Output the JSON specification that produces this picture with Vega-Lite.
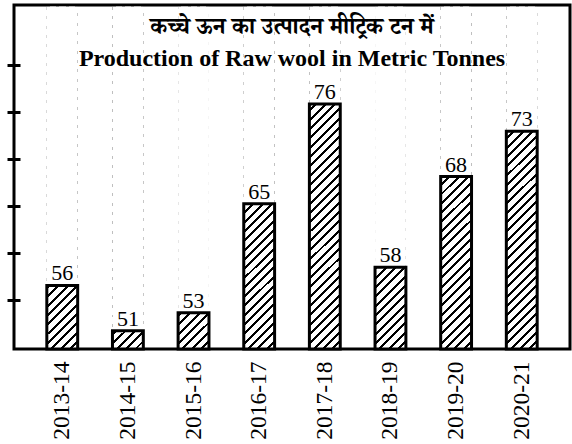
{
 "$schema": "https://vega.github.io/schema/vega-lite/v6.json",
 "width": 556,
 "height": 344,
 "autosize": {"type": "none"},
 "padding": {"left": 14, "top": 5, "right": 2, "bottom": 95},
 "background": "white",
 "config": {
  "view": {"stroke": "black", "strokeWidth": 3, "fill": "white"},
  "axis": {"grid": false},
  "font": "Liberation Serif"
 },
 "title": {
  "text": "कच्चे ऊन का उत्पादन मीट्रिक टन में",
  "subtitle": "Production of Raw wool in Metric Tonnes",
  "anchor": "middle",
  "frame": "group",
  "orient": "top",
  "offset": -66,
  "font": "Noto Serif Devanagari, Noto Sans Devanagari, Lohit Devanagari, FreeSerif, serif",
  "fontSize": 23,
  "fontWeight": "bold",
  "color": "black",
  "subtitleFont": "Liberation Serif",
  "subtitleFontSize": 24,
  "subtitleFontWeight": "bold",
  "subtitleColor": "black",
  "subtitlePadding": 8
 },
 "data": {"values": [
  {"year": "2013-14", "value": 56},
  {"year": "2014-15", "value": 51},
  {"year": "2015-16", "value": 53},
  {"year": "2016-17", "value": 65},
  {"year": "2017-18", "value": 76},
  {"year": "2018-19", "value": 58},
  {"year": "2019-20", "value": 68},
  {"year": "2020-21", "value": 73}
 ]},
 "encoding": {
  "x": {
   "field": "year", "type": "nominal", "sort": null, "title": null,
   "scale": {"paddingInner": 0.53, "paddingOuter": 0.5},
   "axis": {"labelAngle": -90, "labelAlign": "right", "labelBaseline": "middle", "labelPadding": 12, "labelFontSize": 23.5, "labelFont": "Liberation Serif", "labelColor": "black", "ticks": false, "domain": false}
  }
 },
 "layer": [
  {
   "mark": {"type": "bar", "stroke": null, "fill": {"gradient": "linear", "x1": 0, "y1": 0, "x2": 0.0973, "y2": 1.0813, "stops": [
    {"offset":0,"color":"#000"},{"offset":0.008,"color":"#000"},{"offset":0.008,"color":"#fff"},{"offset":0.025,"color":"#fff"},
    {"offset":0.025,"color":"#000"},{"offset":0.033,"color":"#000"},{"offset":0.033,"color":"#fff"},{"offset":0.05,"color":"#fff"},
    {"offset":0.05,"color":"#000"},{"offset":0.058,"color":"#000"},{"offset":0.058,"color":"#fff"},{"offset":0.075,"color":"#fff"},
    {"offset":0.075,"color":"#000"},{"offset":0.083,"color":"#000"},{"offset":0.083,"color":"#fff"},{"offset":0.1,"color":"#fff"},
    {"offset":0.1,"color":"#000"},{"offset":0.108,"color":"#000"},{"offset":0.108,"color":"#fff"},{"offset":0.125,"color":"#fff"},
    {"offset":0.125,"color":"#000"},{"offset":0.133,"color":"#000"},{"offset":0.133,"color":"#fff"},{"offset":0.15,"color":"#fff"},
    {"offset":0.15,"color":"#000"},{"offset":0.158,"color":"#000"},{"offset":0.158,"color":"#fff"},{"offset":0.175,"color":"#fff"},
    {"offset":0.175,"color":"#000"},{"offset":0.183,"color":"#000"},{"offset":0.183,"color":"#fff"},{"offset":0.2,"color":"#fff"},
    {"offset":0.2,"color":"#000"},{"offset":0.208,"color":"#000"},{"offset":0.208,"color":"#fff"},{"offset":0.225,"color":"#fff"},
    {"offset":0.225,"color":"#000"},{"offset":0.233,"color":"#000"},{"offset":0.233,"color":"#fff"},{"offset":0.25,"color":"#fff"},
    {"offset":0.25,"color":"#000"},{"offset":0.258,"color":"#000"},{"offset":0.258,"color":"#fff"},{"offset":0.275,"color":"#fff"},
    {"offset":0.275,"color":"#000"},{"offset":0.283,"color":"#000"},{"offset":0.283,"color":"#fff"},{"offset":0.3,"color":"#fff"},
    {"offset":0.3,"color":"#000"},{"offset":0.308,"color":"#000"},{"offset":0.308,"color":"#fff"},{"offset":0.325,"color":"#fff"},
    {"offset":0.325,"color":"#000"},{"offset":0.333,"color":"#000"},{"offset":0.333,"color":"#fff"},{"offset":0.35,"color":"#fff"},
    {"offset":0.35,"color":"#000"},{"offset":0.358,"color":"#000"},{"offset":0.358,"color":"#fff"},{"offset":0.375,"color":"#fff"},
    {"offset":0.375,"color":"#000"},{"offset":0.383,"color":"#000"},{"offset":0.383,"color":"#fff"},{"offset":0.4,"color":"#fff"},
    {"offset":0.4,"color":"#000"},{"offset":0.408,"color":"#000"},{"offset":0.408,"color":"#fff"},{"offset":0.425,"color":"#fff"},
    {"offset":0.425,"color":"#000"},{"offset":0.433,"color":"#000"},{"offset":0.433,"color":"#fff"},{"offset":0.45,"color":"#fff"},
    {"offset":0.45,"color":"#000"},{"offset":0.458,"color":"#000"},{"offset":0.458,"color":"#fff"},{"offset":0.475,"color":"#fff"},
    {"offset":0.475,"color":"#000"},{"offset":0.483,"color":"#000"},{"offset":0.483,"color":"#fff"},{"offset":0.5,"color":"#fff"},
    {"offset":0.5,"color":"#000"},{"offset":0.508,"color":"#000"},{"offset":0.508,"color":"#fff"},{"offset":0.525,"color":"#fff"},
    {"offset":0.525,"color":"#000"},{"offset":0.533,"color":"#000"},{"offset":0.533,"color":"#fff"},{"offset":0.55,"color":"#fff"},
    {"offset":0.55,"color":"#000"},{"offset":0.558,"color":"#000"},{"offset":0.558,"color":"#fff"},{"offset":0.575,"color":"#fff"},
    {"offset":0.575,"color":"#000"},{"offset":0.583,"color":"#000"},{"offset":0.583,"color":"#fff"},{"offset":0.6,"color":"#fff"},
    {"offset":0.6,"color":"#000"},{"offset":0.608,"color":"#000"},{"offset":0.608,"color":"#fff"},{"offset":0.625,"color":"#fff"},
    {"offset":0.625,"color":"#000"},{"offset":0.633,"color":"#000"},{"offset":0.633,"color":"#fff"},{"offset":0.65,"color":"#fff"},
    {"offset":0.65,"color":"#000"},{"offset":0.658,"color":"#000"},{"offset":0.658,"color":"#fff"},{"offset":0.675,"color":"#fff"},
    {"offset":0.675,"color":"#000"},{"offset":0.683,"color":"#000"},{"offset":0.683,"color":"#fff"},{"offset":0.7,"color":"#fff"},
    {"offset":0.7,"color":"#000"},{"offset":0.708,"color":"#000"},{"offset":0.708,"color":"#fff"},{"offset":0.725,"color":"#fff"},
    {"offset":0.725,"color":"#000"},{"offset":0.733,"color":"#000"},{"offset":0.733,"color":"#fff"},{"offset":0.75,"color":"#fff"},
    {"offset":0.75,"color":"#000"},{"offset":0.758,"color":"#000"},{"offset":0.758,"color":"#fff"},{"offset":0.775,"color":"#fff"},
    {"offset":0.775,"color":"#000"},{"offset":0.783,"color":"#000"},{"offset":0.783,"color":"#fff"},{"offset":0.8,"color":"#fff"},
    {"offset":0.8,"color":"#000"},{"offset":0.808,"color":"#000"},{"offset":0.808,"color":"#fff"},{"offset":0.825,"color":"#fff"},
    {"offset":0.825,"color":"#000"},{"offset":0.833,"color":"#000"},{"offset":0.833,"color":"#fff"},{"offset":0.85,"color":"#fff"},
    {"offset":0.85,"color":"#000"},{"offset":0.858,"color":"#000"},{"offset":0.858,"color":"#fff"},{"offset":0.875,"color":"#fff"},
    {"offset":0.875,"color":"#000"},{"offset":0.883,"color":"#000"},{"offset":0.883,"color":"#fff"},{"offset":0.9,"color":"#fff"},
    {"offset":0.9,"color":"#000"},{"offset":0.908,"color":"#000"},{"offset":0.908,"color":"#fff"},{"offset":0.925,"color":"#fff"},
    {"offset":0.925,"color":"#000"},{"offset":0.933,"color":"#000"},{"offset":0.933,"color":"#fff"},{"offset":0.95,"color":"#fff"},
    {"offset":0.95,"color":"#000"},{"offset":0.958,"color":"#000"},{"offset":0.958,"color":"#fff"},{"offset":0.975,"color":"#fff"},
    {"offset":0.975,"color":"#000"},{"offset":0.983,"color":"#000"},{"offset":0.983,"color":"#fff"},{"offset":1,"color":"#fff"}
   ]}},
   "encoding": {
    "y": {"datum": 49, "type": "quantitative", "title": null,
     "scale": {"domain": [49, 86.9], "nice": false, "zero": false},
     "axis": {"title": null, "labels": false, "domain": false, "grid": false, "values": [54.35, 59.57, 64.7, 69.93, 75.06, 80.31], "offset": -6, "tickSize": 13, "tickWidth": 3, "tickColor": "black"}},
    "y2": {"datum": 86.7}
   }
  },
  {
   "mark": {"type": "bar", "fill": "white", "stroke": null},
   "encoding": {
    "y": {"field": "value", "type": "quantitative", "title": null},
    "y2": {"datum": 86.7}
   }
  },
  {
   "mark": {"type": "bar", "fill": "transparent", "stroke": "black", "strokeWidth": 3},
   "encoding": {
    "y": {"field": "value", "type": "quantitative", "title": null},
    "y2": {"datum": 49}
   }
  },
  {
   "mark": {"type": "text", "baseline": "alphabetic", "dy": -5, "fontSize": 22, "font": "Liberation Serif", "color": "black"},
   "encoding": {
    "y": {"field": "value", "type": "quantitative", "title": null},
    "text": {"field": "value", "type": "quantitative"}
   }
  }
 ]
}
